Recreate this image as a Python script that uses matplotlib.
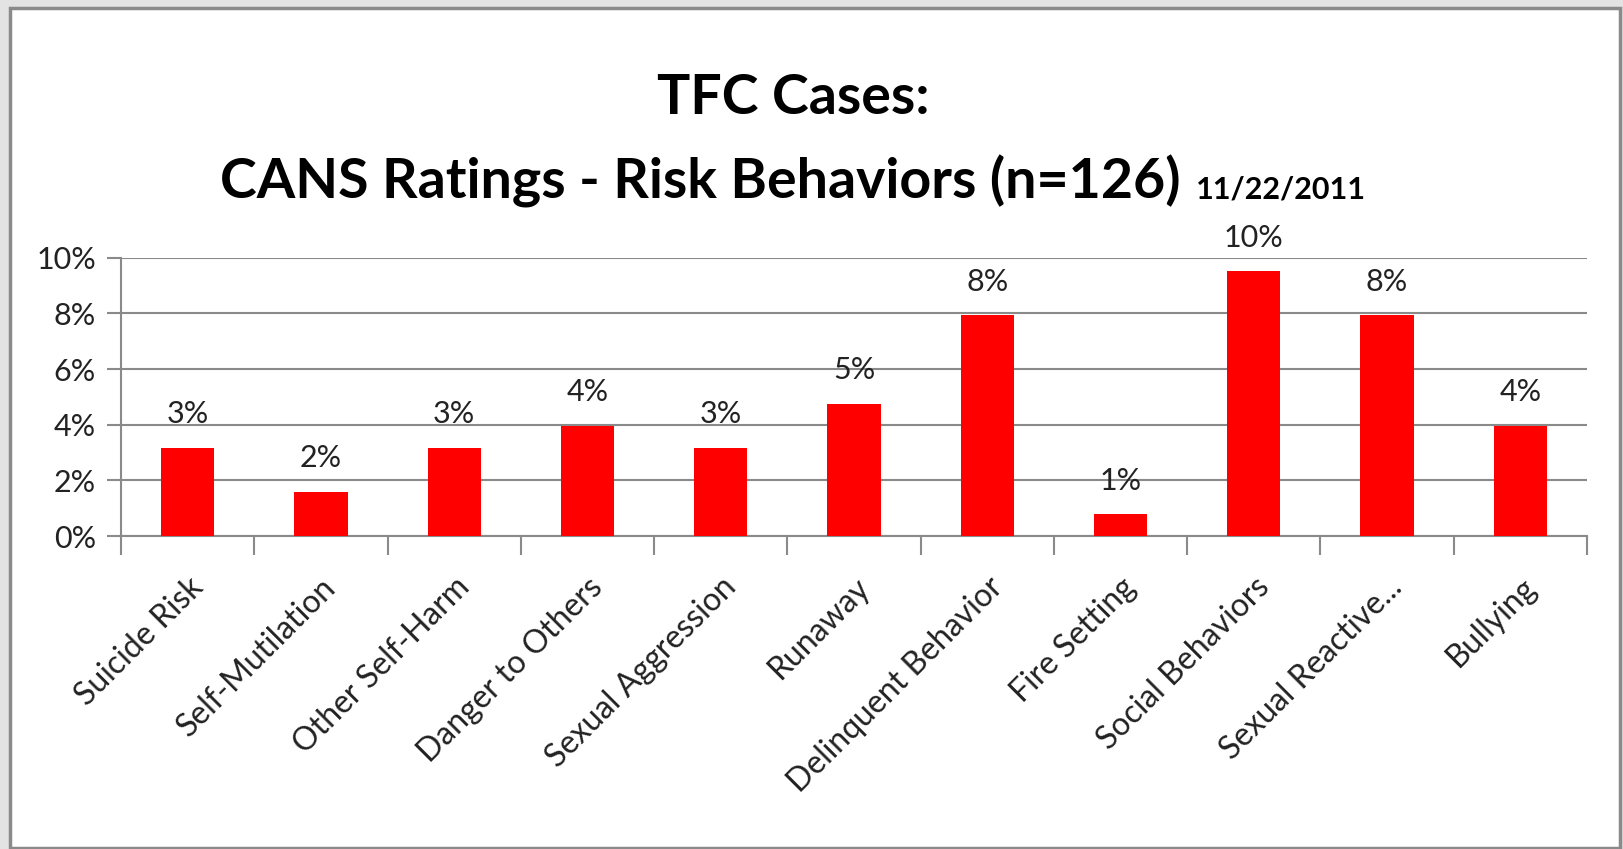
import numpy as np
import matplotlib
matplotlib.use('Agg')
import matplotlib.pyplot as plt
from matplotlib.patches import Rectangle
from matplotlib.ticker import FixedLocator, FuncFormatter

plt.rcParams['font.family'] = ['Lato', 'DejaVu Sans']

categories = ['Suicide Risk', 'Self-Mutilation', 'Other Self-Harm',
              'Danger to Others', 'Sexual Aggression', 'Runaway',
              'Delinquent Behavior', 'Fire Setting', 'Social Behaviors',
              'Sexual Reactive...', 'Bullying']
pct = [3.17, 1.59, 3.17, 3.97, 3.17, 4.76, 7.94, 0.79, 9.52, 7.94, 3.97]
yticks = [0, 2, 4, 6, 8, 10]

W, H = 1623, 849
fig = plt.figure(figsize=(W / 100, H / 100), dpi=100, facecolor='#e3e3e3')

# white chart panel with a thin dark border
panel = Rectangle((10 / W, 1 / H), 1610 / W, 840 / H, transform=fig.transFigure,
                  facecolor='white', edgecolor='#8a8a8a', lw=2.5, zorder=-10)
fig.patches.append(panel)

ax = fig.add_axes([121 / W, (H - 536) / H, (1587 - 121) / W, (536 - 257.7) / H])
ax.set_facecolor('none')

x = np.arange(len(categories))
ax.bar(x, pct, width=0.4, color='#ff0000', zorder=3)
for xi, v in zip(x, pct):
    ax.text(xi, v + 0.7, '%d%%' % round(v), ha='center', va='bottom',
            fontsize=22, color='#222222')

ax.set_xlim(-0.5, len(categories) - 0.5)
ax.set_ylim(0, 10)
ax.yaxis.set_major_locator(FixedLocator(yticks))
ax.yaxis.set_major_formatter(FuncFormatter(lambda v, p: '%d%%' % v))
ax.grid(axis='y', color='#8a8a8a', lw=1.5, zorder=1)

ax.set_xticks(np.arange(-0.5, len(categories), 1.0))
ax.set_xticklabels([])
ax.set_xticks(x, minor=True)
ax.set_xticklabels(categories, minor=True, rotation=45, ha='right',
                   rotation_mode='anchor', fontsize=23, color='#222222')
ax.tick_params(axis='x', which='major', length=14, width=1.5, color='#8a8a8a')
ax.tick_params(axis='x', which='minor', length=0, pad=26)
ax.tick_params(axis='y', length=10, width=1.5, color='#8a8a8a',
               labelsize=22, labelcolor='#222222', pad=8)

for side in ['top', 'right']:
    ax.spines[side].set_visible(False)
for side in ['left', 'bottom']:
    ax.spines[side].set_color('#8a8a8a')
    ax.spines[side].set_linewidth(1.5)

fig.text(793 / W, 1 - 98 / H, 'TFC Cases:', ha='center', va='center',
         fontsize=40, fontweight='bold', color='black')
fig.text(700 / W, 1 - 181 / H, 'CANS Ratings - Risk Behaviors (n=126)',
         ha='center', va='center', fontsize=40, fontweight='bold', color='black')
fig.text(1196 / W, 1 - 189 / H, '11/22/2011', ha='left', va='center',
         fontsize=22, fontweight='bold', color='black')

fig.savefig('out.png', dpi=100, facecolor=fig.get_facecolor())
